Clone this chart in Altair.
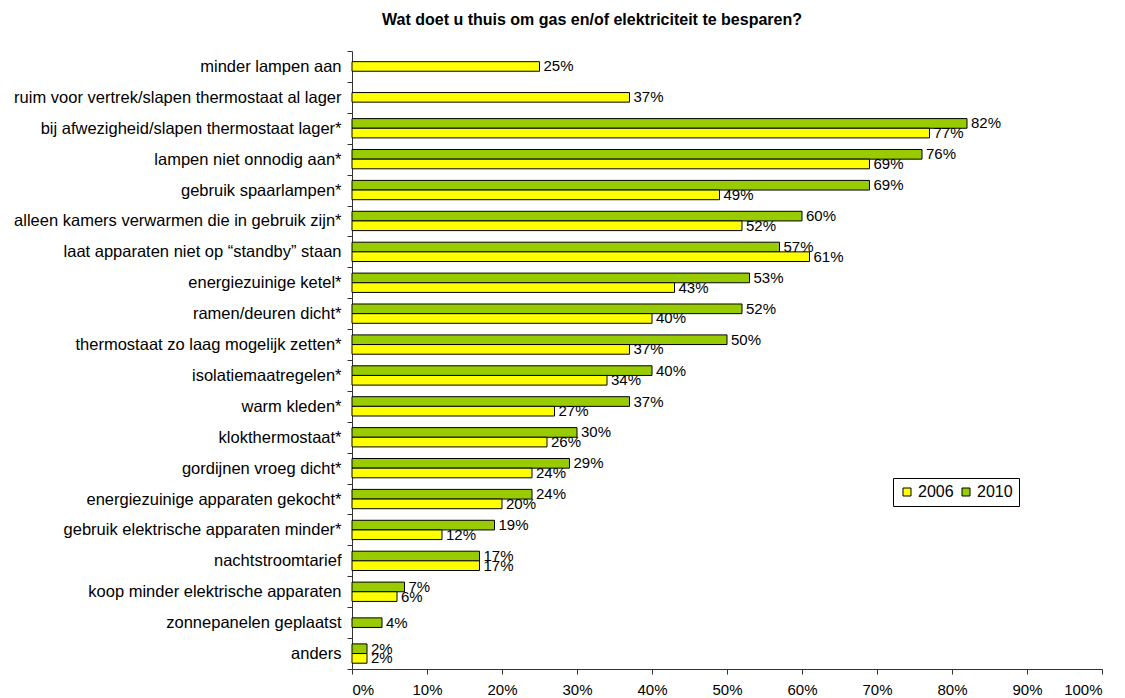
import altair as alt
import pandas as pd

categories = [
    "minder lampen aan",
    "ruim voor vertrek/slapen thermostaat al lager",
    "bij afwezigheid/slapen thermostaat lager*",
    "lampen niet onnodig aan*",
    "gebruik spaarlampen*",
    "alleen kamers verwarmen die in gebruik zijn*",
    "laat apparaten niet op \u201cstandby\u201d staan",
    "energiezuinige ketel*",
    "ramen/deuren dicht*",
    "thermostaat zo laag mogelijk zetten*",
    "isolatiemaatregelen*",
    "warm kleden*",
    "klokthermostaat*",
    "gordijnen vroeg dicht*",
    "energiezuinige apparaten gekocht*",
    "gebruik elektrische apparaten minder*",
    "nachtstroomtarief",
    "koop minder elektrische apparaten",
    "zonnepanelen geplaatst",
    "anders",
]
values_2006 = [25, 37, 77, 69, 49, 52, 61, 43, 40, 37, 34, 27, 26, 24, 20, 12, 17, 6, None, 2]
values_2010 = [None, None, 82, 76, 69, 60, 57, 53, 52, 50, 40, 37, 30, 29, 24, 19, 17, 7, 4, 2]

rows = []
for c, v6, v10 in zip(categories, values_2006, values_2010):
    both = v6 is not None and v10 is not None
    if v10 is not None:
        rows.append({"cat": c, "year": "2010", "value": v10 / 100, "both": both})
    if v6 is not None:
        rows.append({"cat": c, "year": "2006", "value": v6 / 100, "both": both})
df = pd.DataFrame(rows)

FONT = "Liberation Sans"

yscale = alt.Scale(domain=categories, paddingInner=0, paddingOuter=0)
xscale = alt.Scale(domain=[0, 1])
color = alt.Color(
    "year:N",
    scale=alt.Scale(domain=["2006", "2010"], range=["#FFFF00", "#99CC00"]),
    legend=alt.Legend(
        title=None,
        orient="none",
        legendX=541,
        legendY=427,
        direction="horizontal",
        strokeColor="#000000",
        padding=6,
        symbolType="square",
        symbolSize=64,
        symbolStrokeColor="#000000",
        symbolStrokeWidth=1,
        labelFontSize=16,
        labelFont=FONT,
        labelColor="#000000",
        labelOffset=3,
        columnPadding=4,
    ),
)

x_enc = alt.X(
    "value:Q",
    scale=xscale,
    axis=alt.Axis(
        title=None,
        values=[i / 10 for i in range(11)],
        format=".0%",
        grid=False,
        tickSize=5,
        labelPadding=8,
        labelFontSize=15,
        labelFont=FONT,
        labelColor="#000000",
        domainColor="#333333",
        tickColor="#333333",
    ),
)
y_enc = alt.Y(
    "cat:N",
    scale=yscale,
    sort=categories,
    axis=alt.Axis(
        title=None,
        tickBand="extent",
        tickSize=5,
        labelPadding=6,
        labelFontSize=16.5,
        labelFont=FONT,
        labelColor="#000000",
        labelLimit=400,
        domainColor="#333333",
        tickColor="#333333",
    ),
)

base = alt.Chart(df)
yoff = alt.YOffset("year:N", scale=alt.Scale(domain=["2010", "2006"], paddingInner=0, paddingOuter=0.6))

bars_both = base.transform_filter("datum.both").mark_bar(
    stroke="#000000", strokeWidth=1
).encode(x=x_enc, y=y_enc, yOffset=yoff, color=color)

text_both = base.transform_filter("datum.both").mark_text(
    align="left", baseline="middle", dx=4, fontSize=15, font=FONT, color="#000000"
).encode(x=x_enc, y=y_enc, yOffset=yoff, text=alt.Text("value:Q", format=".0%"))

bars_single = base.transform_filter("!datum.both").mark_bar(
    stroke="#000000", strokeWidth=1, height=alt.RelativeBandSize(0.31)
).encode(x=x_enc, y=y_enc, color=color)

text_single = base.transform_filter("!datum.both").mark_text(
    align="left", baseline="middle", dx=4, fontSize=15, font=FONT, color="#000000"
).encode(x=x_enc, y=y_enc, text=alt.Text("value:Q", format=".0%"))

chart = (
    alt.layer(bars_both, text_both, bars_single, text_single)
    .properties(
        width=750,
        height=618,
        autosize=alt.AutoSizeParams(type="none"),
        padding={"left": 344, "top": 43, "right": 15, "bottom": 29},
        title=alt.TitleParams(
            "Wat doet u thuis om gas en/of elektriciteit te besparen?",
            fontSize=16,
            fontWeight="bold",
            font=FONT,
            color="#000000",
            anchor="middle",
            dx=-135,
            offset=15,
        ),
    )
    .configure_view(stroke=None)
)

chart.save("out.html", embed_options={"renderer": "svg", "actions": False})
